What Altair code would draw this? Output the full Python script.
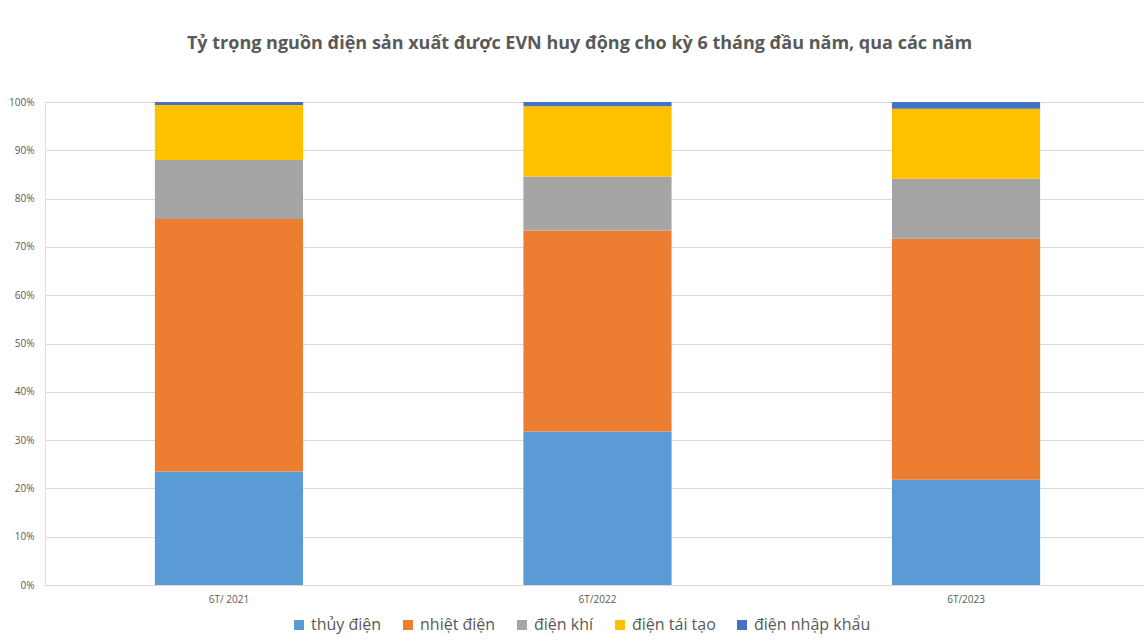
import altair as alt
import pandas as pd

periods = ["6T/ 2021", "6T/2022", "6T/2023"]
sources = ["thủy điện", "nhiệt điện", "điện khí", "điện tái tạo", "điện nhập khẩu"]
colors = ["#5B9BD5", "#ED7D31", "#A5A5A5", "#FFC000", "#4472C4"]

thuy_dien = [23.5, 31.8, 21.8]
nhiet_dien = [52.3, 41.6, 49.9]
dien_khi = [12.2, 11.2, 12.4]
dien_tai_tao = [11.4, 14.5, 14.5]
dien_nhap_khau = [0.6, 0.9, 1.4]

series = [thuy_dien, nhiet_dien, dien_khi, dien_tai_tao, dien_nhap_khau]
rows = []
for si, (src, vals) in enumerate(zip(sources, series)):
    for p, v in zip(periods, vals):
        rows.append({"period": p, "source": src, "value": v / 100.0, "order": si})
df = pd.DataFrame(rows)

FONT = "Open Sans"
GREY = "#595959"

chart = alt.Chart(df).mark_bar().encode(
    x=alt.X("period:N", sort=periods, title=None,
            scale=alt.Scale(paddingInner=0.598, paddingOuter=0.29, align=0.514),
            axis=alt.Axis(labelAngle=0, labelFont=FONT, labelFontSize=10,
                          labelColor=GREY, ticks=False, domain=True,
                          domainColor="#d9d9d9", labelPadding=9)),
    y=alt.Y("value:Q", stack="zero", title=None,
            scale=alt.Scale(domain=[0, 1], nice=False),
            axis=alt.Axis(format=".0%", values=[i / 10 for i in range(11)],
                          labelFont=FONT, labelFontSize=10, labelColor=GREY,
                          ticks=False, domain=False, gridColor="#d9d9d9",
                          labelPadding=11)),
    color=alt.Color("source:N", sort=sources,
                    scale=alt.Scale(domain=sources, range=colors),
                    legend=alt.Legend(title=None, orient="none", direction="horizontal",
                                      legendX=246, legendY=515, symbolType="square",
                                      symbolSize=100, symbolStrokeWidth=0,
                                      labelFont=FONT, labelFontSize=16, labelColor=GREY,
                                      columnPadding=18, labelOffset=4)),
    order=alt.Order("order:Q"),
).properties(
    width=1099,
    height=483,
    title=alt.TitleParams(
        "Tỷ trọng nguồn điện sản xuất được EVN huy động cho kỳ 6 tháng đầu năm, qua các năm",
        anchor="middle", font=FONT, fontSize=18, fontWeight="bold", color=GREY,
        offset=44, dx=-15),
    padding={"left": 45, "top": 102, "right": 0, "bottom": 57},
    autosize=alt.AutoSizeParams(type="none"),
).configure_view(stroke=None).configure(background="white")

chart.save("out.html", embed_options={"renderer": "svg", "actions": False})
